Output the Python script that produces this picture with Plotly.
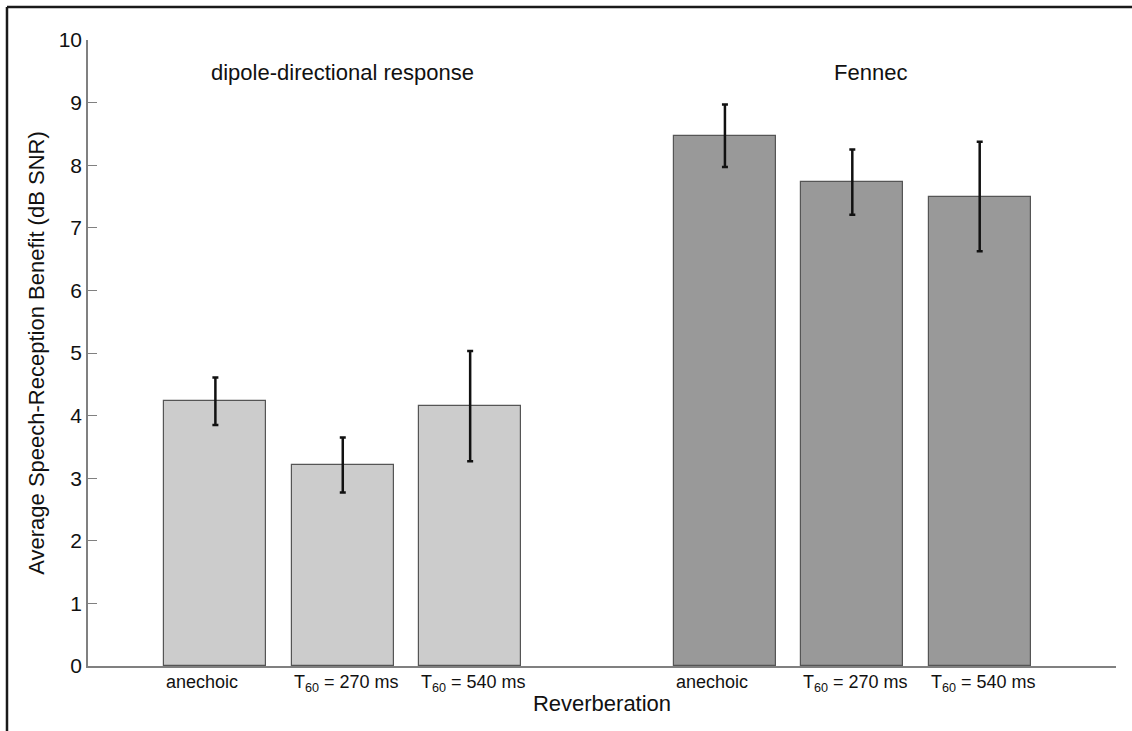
import plotly.graph_objects as go

# Data
positions = [1, 2, 3, 5, 6, 7]
conditions = ["anechoic", "T<sub>60</sub> = 270 ms", "T<sub>60</sub> = 540 ms",
              "anechoic", "T<sub>60</sub> = 270 ms", "T<sub>60</sub> = 540 ms"]
dipole_values = [4.23, 3.21, 4.15]
dipole_errors = [0.38, 0.44, 0.88]
fennec_values = [8.47, 7.73, 7.50]
fennec_errors = [0.50, 0.52, 0.875]
group_titles = ["dipole-directional response", "Fennec"]
group_title_x = [2.0, 6.14]
y_ticks = [0, 1, 2, 3, 4, 5, 6, 7, 8, 9, 10]

FONT = "Liberation Sans, Arial, sans-serif"

fig = go.Figure()
fig.add_trace(go.Bar(
    x=positions[:3], y=dipole_values, width=0.8,
    marker=dict(color="#cccccc", line=dict(color="#555555", width=1.2)),
    error_y=dict(type="data", array=dipole_errors, color="#111111", thickness=2.5, width=3),
    showlegend=False))
fig.add_trace(go.Bar(
    x=positions[3:], y=fennec_values, width=0.8,
    marker=dict(color="#999999", line=dict(color="#555555", width=1.2)),
    error_y=dict(type="data", array=fennec_errors, color="#111111", thickness=2.5, width=3),
    showlegend=False))

annotations = []
for p, lab in zip(positions, conditions):
    annotations.append(dict(x=p - 0.4, y=0, xref="x", yref="y", text=lab, showarrow=False,
                            xanchor="left", yanchor="top", yshift=-4,
                            font=dict(family=FONT, size=18, color="#111111")))
for gx, gt in zip(group_title_x, group_titles):
    annotations.append(dict(x=gx, y=9.48, xref="x", yref="y", text=gt, showarrow=False,
                            xanchor="center", yanchor="middle",
                            font=dict(family=FONT, size=22, color="#111111")))

fig.update_layout(
    width=1132, height=731,
    margin=dict(l=88, r=16, t=40, b=65),
    paper_bgcolor="white", plot_bgcolor="white",
    font=dict(family=FONT, color="#111111"),
    annotations=annotations,
    bargap=0,
    xaxis=dict(range=[0, 8.07], showticklabels=False, ticks="", showgrid=False, zeroline=False,
               showline=True, linecolor="#808080", linewidth=1.5,
               title=dict(text="Reverberation", font=dict(family=FONT, size=22), standoff=29)),
    yaxis=dict(range=[0, 10], tickvals=y_ticks, ticks="inside", ticklen=9, tickcolor="#808080",
               tickwidth=1.2, showgrid=False, zeroline=False, showline=True, linecolor="#808080",
               linewidth=1.5, tickfont=dict(family=FONT, size=21),
               title=dict(text="Average Speech-Reception Benefit (dB SNR)",
                          font=dict(family=FONT, size=22), standoff=8)),
    shapes=[
        dict(type="line", xref="paper", yref="paper", x0=-0.0788, x1=1.02, y0=1.0527, y1=1.0527,
             line=dict(color="#1a1a1a", width=2.5)),
        dict(type="line", xref="paper", yref="paper", x0=-0.0788, x1=-0.0788, y0=1.0527, y1=-0.11,
             line=dict(color="#1a1a1a", width=2.5)),
    ],
)

fig.write_html("out.html", config={"displayModeBar": False},
               post_script="document.body.style.margin='0';")
